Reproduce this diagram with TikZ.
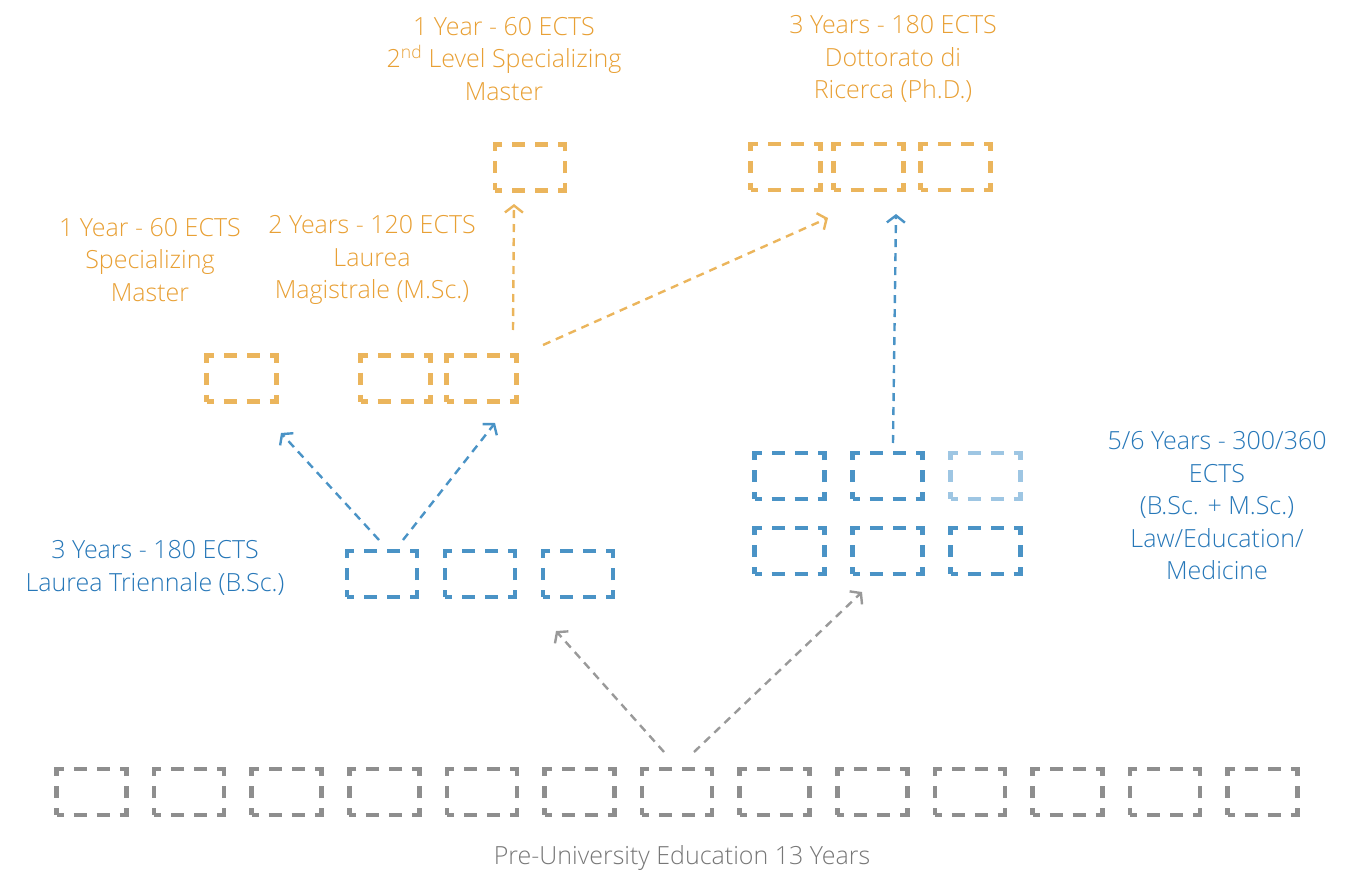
\documentclass[tikz,border=0pt]{standalone}
\usepackage{fontspec}
\setmainfont{Open Sans}[UprightFont={* Light}]
\usetikzlibrary{arrows.meta}
\definecolor{otext}{HTML}{E8A035}
\definecolor{obox}{HTML}{EBB55C}
\definecolor{btext}{HTML}{2677B8}
\definecolor{bbox}{HTML}{4A93C6}
\definecolor{lbbox}{HTML}{9EC6E3}
\definecolor{gbox}{HTML}{8E8E8E}
\definecolor{garrow}{HTML}{999999}
\definecolor{gtext}{HTML}{777777}
\tikzset{
  yrbox/.style={draw, rectangle, minimum width=70pt, minimum height=46pt, inner sep=0pt,
    line width=4.5pt,
    dash pattern=on 7pt off 10pt on 13pt off 10pt on 13pt off 10pt on 14pt off 10pt on 12pt off 10pt on 14pt off 10pt on 13pt off 10pt on 13pt off 10pt on 14pt off 10pt on 12pt off 10pt on 7pt},
  lbl/.style={align=center, font=\fontsize{25}{32.5}\selectfont, inner sep=0pt},
  conn/.style={line width=2.4pt, dash pattern=on 8pt off 6pt,
    -{Straight Barb[length=7pt,width=18pt,line width=2.4pt]}},
}
\begin{document}
\begin{tikzpicture}[x=1pt,y=-1pt]
\useasboundingbox (0,0) rectangle (1361,872);
% pre-university row
\foreach \i in {1,...,13}{
  \node[yrbox, draw=gbox] (g\i) at ({91.5+97.6*(\i-1)},792) {};
}
\node[lbl, text=gtext] (pretext) at (682,858) {Pre-University Education 13 Years};
% B.Sc.
\node[yrbox, draw=bbox] (b1) at (382,574) {};
\node[yrbox, draw=bbox] (b2) at (480,574) {};
\node[yrbox, draw=bbox] (b3) at (578,574) {};
\node[lbl, text=btext] (btxt) at (155,568) {3 Years - 180 ECTS\\Laurea Triennale (B.Sc.)};
% single cycle
\node[yrbox, draw=bbox] (s1) at (789.5,476) {};
\node[yrbox, draw=bbox] (s2) at (887.5,476) {};
\node[yrbox, draw=lbbox] (s3) at (985.5,476) {};
\node[yrbox, draw=bbox] (s4) at (789.5,551) {};
\node[yrbox, draw=bbox] (s5) at (887.5,551) {};
\node[yrbox, draw=bbox] (s6) at (985.5,551) {};
\node[lbl, text=btext] (stxt) at (1217,506) {5/6 Years - 300/360\\ECTS\\(B.Sc. + M.Sc.)\\Law/Education/\\Medicine};
% masters level
\node[yrbox, draw=obox] (sp1) at (241.5,378.5) {};
\node[yrbox, draw=obox] (m1) at (395.5,378.5) {};
\node[yrbox, draw=obox] (m2) at (481.5,378.5) {};
\node[lbl, text=otext] (sptxt) at (150,260) {1 Year - 60 ECTS\\Specializing\\Master};
\node[lbl, text=otext] (mtxt) at (372,260) {2 Years - 120 ECTS\\Laurea\\Magistrale (M.Sc.)};
% top level
\node[yrbox, draw=obox] (l2) at (530,167.5) {};
\node[yrbox, draw=obox] (p1) at (785.5,167) {};
\node[yrbox, draw=obox] (p2) at (868.5,167) {};
\node[yrbox, draw=obox] (p3) at (955.5,167) {};
\node[lbl, text=otext] (l2txt) at (504,59) {1 Year - 60 ECTS\\2\textsuperscript{nd} Level Specializing\\Master};
\node[lbl, text=otext] (ptxt) at (893,59) {3 Years - 180 ECTS\\Dottorato di\\Ricerca (Ph.D.)};
% connector end points
\coordinate (ga) at (664,752);  \coordinate (gat) at (556,631);
\coordinate (gb) at (694,752);  \coordinate (gbt) at (862,592);
\coordinate (ba) at (379,540);  \coordinate (bat) at (281,433);
\coordinate (bb) at (403,540);  \coordinate (bbt) at (495,423);
\coordinate (sa) at (893,443);  \coordinate (sat) at (896,214);
\coordinate (ma) at (513,330);  \coordinate (mat) at (514,204);
\coordinate (mb) at (543,345);  \coordinate (mbt) at (828,218);
\draw[conn, garrow] (ga) -- (gat);
\draw[conn, garrow] (gb) -- (gbt);
\draw[conn, bbox] (ba) -- (bat);
\draw[conn, bbox] (bb) -- (bbt);
\draw[conn, bbox] (sa) -- (sat);
\draw[conn, obox] (ma) -- (mat);
\draw[conn, obox] (mb) -- (mbt);
\end{tikzpicture}
\end{document}
